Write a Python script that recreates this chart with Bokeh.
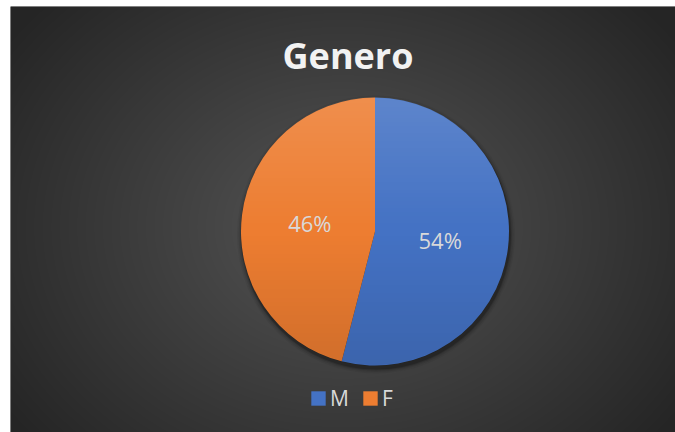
import numpy as np
from bokeh.plotting import figure
from bokeh.models import Range1d, Label, Legend, LegendItem, ColumnDataSource
from bokeh.embed import file_html
from bokeh.resources import INLINE
from bokeh.core.properties import value

# ---- data ----
title_text = "Genero"
categories = ["M", "F"]
shares = [54, 46]
colors = ["#4472C4", "#ED7D31"]

# ---- layout (frame uses pixel-like data units) ----
W, H = 665, 426
CX, CY, R = 364.5, 201.0, 134.0

p = figure(width=675, height=432, output_backend="svg", toolbar_location=None,
           x_range=Range1d(0, W), y_range=Range1d(0, H),
           x_axis_location=None, y_axis_location=None,
           min_border_left=10, min_border_top=6, min_border_right=0,
           min_border_bottom=0, outline_line_color=None, tools="")
p.grid.visible = False
p.background_fill_color = "#3c3c3c"
p.border_fill_color = "white"

# radial background gradient (styling)
yy, xx = np.mgrid[0:H, 0:W].astype(float)
d = np.sqrt(((xx - 332) / (W * 0.62)) ** 2 + ((yy - 205) / (H * 0.78)) ** 2)
d = np.clip(d, 0, 1)
c_in, c_out = 0x55, 0x25
g = (c_in + (c_out - c_in) * d).astype(np.uint32)
bg = (0xFF << 24) | (g << 16) | (g << 8) | g
p.image_rgba(image=[bg.astype(np.uint32)], x=0, y=0, dw=W, dh=H)

# pie shadow
for k, a in [(10, 0.05), (7, 0.08), (4, 0.12), (2, 0.2)]:
    p.ellipse(x=CX + 1, y=CY - 3, width=2 * R + k, height=2 * R + k,
              fill_color="black", fill_alpha=a, line_color=None)

# wedges from data
fr = np.array(shares, dtype=float) / sum(shares)
ends = np.cumsum(fr)
starts = ends - fr
start_ang = np.pi / 2 - 2 * np.pi * starts
end_ang = np.pi / 2 - 2 * np.pi * ends
src = ColumnDataSource(dict(cat=categories, start=start_ang, end=end_ang, color=colors))
wr = p.wedge(x=CX, y=CY, radius=R, start_angle="start", end_angle="end",
             direction="clock", fill_color="color", line_color=None, source=src)

# vertical light/dark sheen overlay on pie (styling)
n = int(2 * R) + 2
oy, ox = np.mgrid[0:n, 0:n].astype(float)
px = ox + 0.5 - n / 2
py = oy + 0.5 - n / 2  # row 0 at bottom
dist = np.sqrt(px ** 2 + py ** 2)
cov = np.clip(R - dist + 0.5, 0, 1)
t = np.clip((R - py) / (2 * R), 0, 1)  # 0 top, 1 bottom
white_a = np.clip(0.14 * (1 - 2 * t), 0, 1) * cov
black_a = np.clip(0.12 * (2 * t - 1), 0, 1) * cov
alpha = white_a + black_a
col = np.where(white_a > 0, 255, 0).astype(np.uint32)
A = (alpha * 255).astype(np.uint32)
ov = (A << 24) | (col << 16) | (col << 8) | col
p.image_rgba(image=[ov.astype(np.uint32)], x=CX - n / 2, y=CY - n / 2, dw=n, dh=n)

# data labels
mid = (starts + ends) / 2
lab_ang = np.pi / 2 - 2 * np.pi * mid
lab_src = ColumnDataSource(dict(x=CX + 0.49 * R * np.cos(lab_ang),
                                y=CY + 0.49 * R * np.sin(lab_ang),
                                t=[f"{s}%" for s in shares]))
p.text(x="x", y="y", text="t", source=lab_src, text_color="#D9D9D9",
       text_font=value("Open Sans"), text_font_size="22px",
       text_align="center", text_baseline="middle")

# title
p.add_layout(Label(x=W / 2 + 5, y=H - 49, text=title_text, text_color="#F2F2F2",
                   text_font="Open Sans", text_font_style="bold",
                   text_font_size="36px", text_align="center",
                   text_baseline="alphabetic"))

# legend
legend = Legend(items=[LegendItem(label=c, renderers=[wr], index=i)
                       for i, c in enumerate(categories)],
                orientation="horizontal", location=(299, 20),
                glyph_width=18, glyph_height=18, label_standoff=3, spacing=11,
                padding=0, margin=0, border_line_color=None,
                background_fill_alpha=0, label_text_color="#D9D9D9",
                label_text_font="Open Sans", label_text_font_size="21px")
p.add_layout(legend)

open("out.html", "w").write(file_html(p, INLINE))
